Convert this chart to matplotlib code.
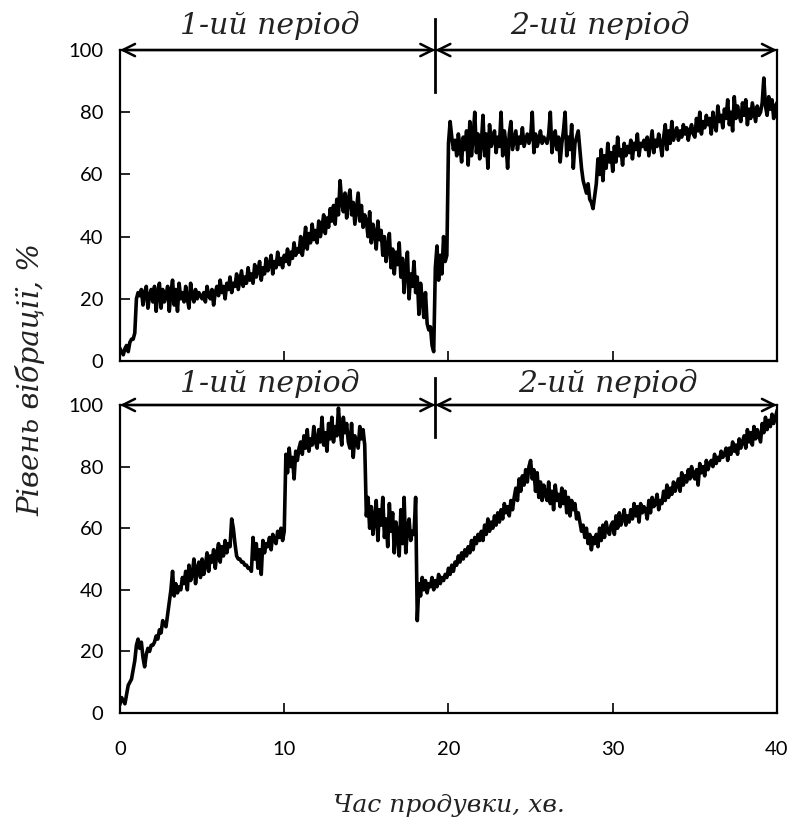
import matplotlib.pyplot as plt
import numpy as np

# time grid, minutes (0.1 min step)
t = np.arange(0, 40.001, 0.1)

# Вібрація, верхній графік (10 точок на хвилину)
top = [
    4, 3, 2, 4, 5, 3, 6, 7, 7, 9,
    20, 22, 21, 23, 18, 22, 24, 17, 21, 23,
    19, 24, 16, 22, 25, 17, 23, 19, 21, 24,
    16, 22, 26, 18, 23, 16, 25, 20, 22, 19,
    24, 20, 17, 25, 21, 19, 23, 20, 22, 21,
    20, 22, 19, 24, 21, 20, 23, 18, 22, 24,
    21, 26, 22, 24, 20, 25, 23, 27, 22, 25,
    24, 28, 23, 26, 29, 24, 27, 25, 30, 26,
    28, 25, 31, 27, 29, 32, 26, 30, 28, 33,
    29, 31, 34, 28, 32, 30, 35, 31, 33, 30,
    34, 32, 36, 31, 35, 33, 38, 34, 36, 35,
    40, 34, 38, 43, 36, 41, 38, 44, 39, 42,
    38, 45, 40, 43, 47, 41, 46, 43, 49, 45,
    50, 44, 52, 47, 58, 51, 48, 54, 46, 52,
    55, 47, 51, 44, 49, 54, 45, 50, 43, 47,
    45, 40, 48, 38, 44, 41, 36, 45, 39, 42,
    34, 40, 32, 37, 41, 30, 36, 28, 35, 31,
    38, 27, 33, 22, 30, 35, 20, 28, 24, 32,
    22, 27, 15, 25, 20, 14, 22, 12, 10, 11,
    5, 3, 30, 37, 26, 34, 28, 40, 32, 34,
    70, 77, 72, 68, 71, 66, 73, 69, 64, 72,
    68, 74, 63, 77, 66, 72, 80, 67, 73, 65,
    70, 79, 66, 73, 62, 76, 69, 71, 74, 67,
    72, 69, 80, 66, 74, 70, 62, 73, 77, 68,
    71, 74, 68, 72, 70, 75, 69, 71, 73, 70,
    72, 80, 67, 73, 69, 71, 74, 70, 72, 71,
    70, 73, 80, 67, 71, 74, 68, 72, 64, 70,
    74, 80, 66, 72, 68, 76, 62, 70, 72, 74,
    68, 62, 58, 56, 54, 57, 52, 51, 49, 53,
    57, 65, 60, 68, 58, 66, 62, 70, 64, 67,
    61, 69, 64, 72, 66, 68, 63, 70, 66, 69,
    67, 71, 65, 70, 68, 73, 66, 70, 69, 71,
    68, 72, 66, 70, 74, 67, 71, 69, 73, 70,
    66, 72, 76, 68, 74, 70, 77, 71, 73, 75,
    71, 74, 72, 76, 73, 75, 71, 74, 76, 73,
    72, 78, 74, 80, 73, 77, 75, 79, 76, 78,
    73, 80, 76, 74, 82, 77, 79, 75, 81, 78,
    84, 76, 80, 74, 85, 78, 82, 79, 77, 83,
    79, 84, 76, 81, 78, 83, 80, 77, 82, 79,
    80, 83, 91, 82, 79, 85, 81, 84, 78, 82,
    83,
]

# Вібрація, нижній графік
bottom = [
    3, 5, 4, 3, 6, 9, 10, 11, 14, 17,
    22, 24, 21, 23, 18, 15, 19, 21, 20, 22,
    22, 23, 25, 24, 27, 26, 30, 29, 28, 32,
    36, 40, 46, 38, 42, 39, 41, 40, 44, 42,
    46, 40, 48, 43, 45, 50, 42, 47, 49, 44,
    50, 45, 48, 52, 46, 51, 49, 53, 47, 52,
    55, 49, 54, 51, 56, 52, 55, 54, 63, 60,
    55, 51, 50, 50, 49, 49, 48, 48, 47, 47,
    46, 57, 50, 55, 47, 53, 45, 56, 52, 55,
    54, 57, 53, 58, 56, 55, 59, 57, 60, 56,
    59, 84, 78, 86, 80, 83, 76, 85, 82, 86,
    88, 84, 90, 86, 92, 85, 89, 87, 93, 88,
    86, 92, 88, 96, 87, 91, 85, 94, 89, 96,
    88, 93, 90, 99, 92, 87, 96, 91, 94, 88,
    86, 94, 83, 90, 88, 86, 93, 89, 92, 87,
    64, 70, 60, 67, 58, 63, 69, 56, 66, 61,
    70, 57, 63, 54, 68, 59, 65, 52, 62, 58,
    51, 66, 55, 70, 52, 60, 63, 56, 59, 58,
    70, 30, 42, 38, 44, 40, 43, 39, 42, 41,
    44, 40, 43, 41, 45, 42, 44, 43, 45, 44,
    47, 45, 48, 46, 49, 48, 51, 49, 52, 50,
    53, 51, 54, 52, 56, 53, 57, 55, 58, 56,
    59, 56, 61, 58, 63, 59, 62, 60, 64, 61,
    65, 62, 66, 63, 68, 65, 67, 64, 69, 66,
    70, 73, 69, 76, 72, 77, 74, 79, 75, 80,
    82, 76, 79, 72, 78, 70, 75, 69, 74, 71,
    69, 75, 68, 72, 66, 74, 69, 71, 67, 73,
    68, 72, 65, 70, 64, 69, 66, 68, 63, 65,
    62, 59, 61, 57, 60, 55, 58, 53, 57, 55,
    58, 54, 60, 56, 61, 57, 62, 59, 58, 61,
    62, 58, 64, 60, 65, 61, 63, 66, 61, 64,
    62, 66, 63, 68, 64, 67, 62, 68, 65, 67,
    66, 63, 69, 65, 70, 67, 68, 71, 66, 69,
    68, 72, 69, 74, 70, 73, 71, 75, 72, 74,
    76, 72, 78, 74, 77, 75, 79, 76, 80, 77,
    76, 79, 74, 81, 78, 80, 77, 82, 79, 81,
    82, 80, 84, 81, 83, 82, 85, 83, 84, 86,
    82, 86, 84, 88, 85, 87, 84, 89, 86, 88,
    90, 86, 92, 88, 91, 87, 93, 89, 92, 90,
    88, 94, 91, 96, 92, 95, 93, 97, 94, 96,
    98,
]

split = 19.2
labels = ['1-ий період', '2-ий період']
xticks = [0, 10, 20, 30, 40]
yticks = [0, 20, 40, 60, 80, 100]

tick_font = 'Lato'
serif = 'DejaVu Serif'

fig = plt.figure(figsize=(7.9, 8.19), dpi=100)
ax1 = fig.add_axes([0.1519, 0.5592, 0.8316, 0.3797])
ax2 = fig.add_axes([0.1519, 0.1294, 0.8316, 0.3761])

for ax, y, lab_x, lab_y, vline in [
    (ax1, top, [9.1, 29.2], 108, (86.5, 110)),
    (ax2, bottom, [9.1, 29.7], 107, (89.6, 108.8)),
]:
    ax.plot(t, y, color='black', lw=2.6)
    ax.set_xlim(0, 40)
    ax.set_ylim(0, 100)
    ax.set_xticks(xticks)
    ax.set_yticks(yticks)
    ax.tick_params(direction='in', length=7, width=1.2, labelsize=14.5)
    ax.tick_params(axis='y', pad=12)
    ax.tick_params(axis='x', pad=20)
    for lbl in ax.get_xticklabels() + ax.get_yticklabels():
        lbl.set_family(tick_font)
    for s in ax.spines.values():
        s.set_linewidth(1.6)

    # period arrows
    ax.annotate('', xy=(0, 100), xytext=(split, 100),
                arrowprops=dict(arrowstyle='<->', lw=1.8, color='black',
                                mutation_scale=22, shrinkA=0, shrinkB=0),
                annotation_clip=False)
    ax.annotate('', xy=(split, 100), xytext=(40, 100),
                arrowprops=dict(arrowstyle='<->', lw=1.8, color='black',
                                mutation_scale=22, shrinkA=0, shrinkB=0),
                annotation_clip=False)
    ax.plot([split, split], vline, color='black', lw=2, clip_on=False)
    for lx, txt in zip(lab_x, labels):
        ax.text(lx, lab_y, txt, ha='center', va='center', fontsize=21.5,
                family=serif, style='italic', color='#222222', clip_on=False)

ax1.tick_params(labelbottom=False)
ax2.set_xlabel('Час продувки, хв.', family=serif, style='italic',
               fontsize=18, labelpad=26, color='#222222')
fig.text(0.038, 0.537, 'Рівень вібрації, %', rotation=90, ha='center',
         va='center', family=serif, style='italic', fontsize=21,
         color='#222222')

plt.savefig('out.png', dpi=100)
